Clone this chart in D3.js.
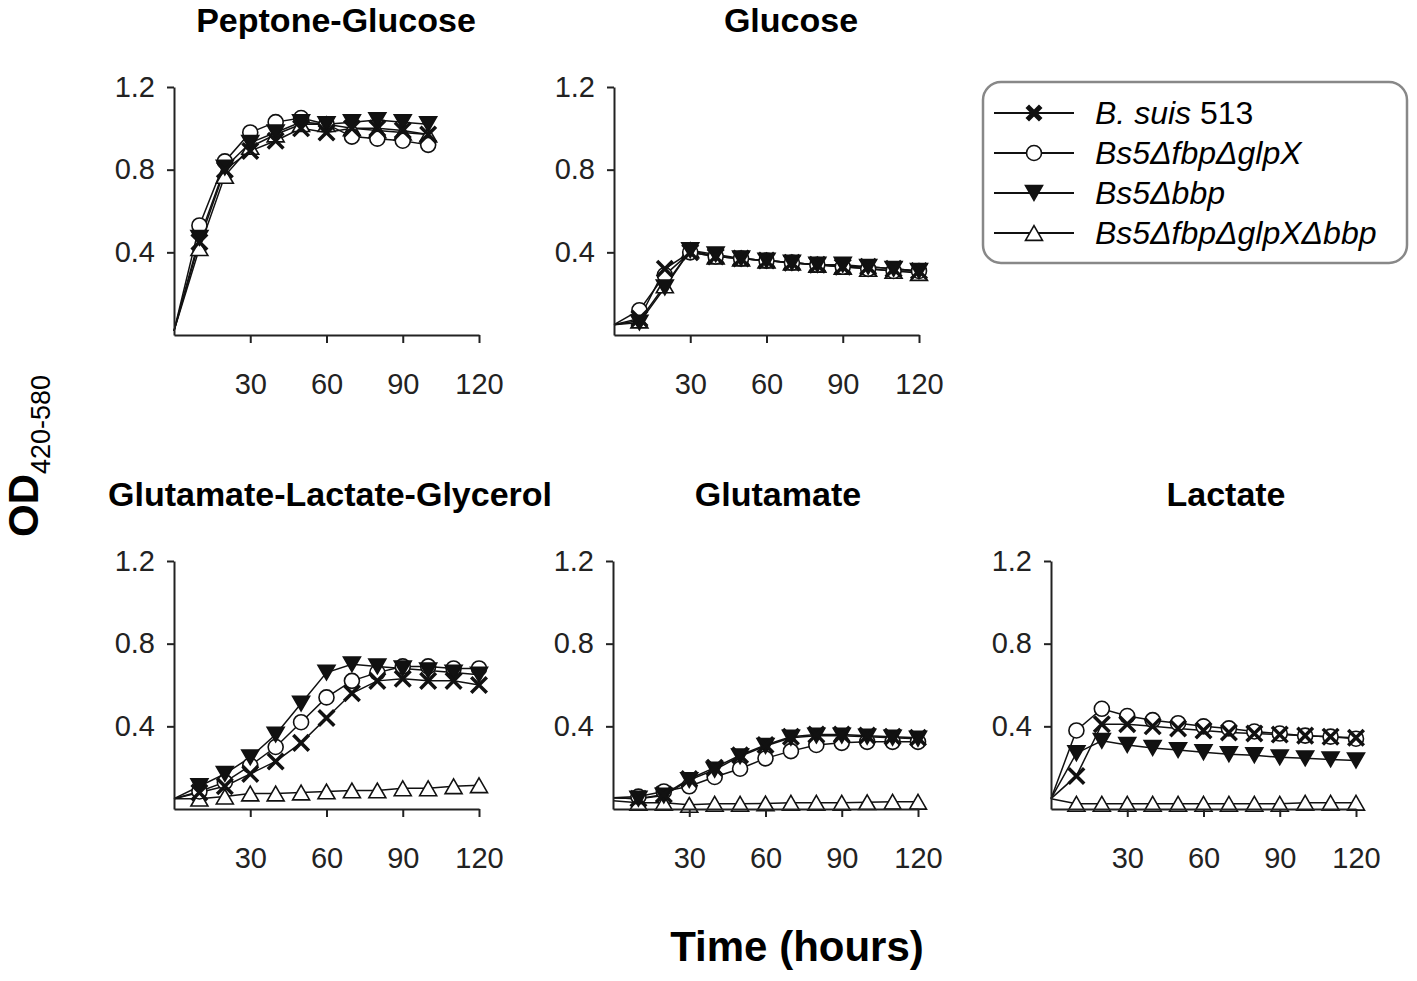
<!DOCTYPE html>
<html lang="en">
<head>
  <meta charset="UTF-8">
  <title>OD growth curves</title>
  <script src="https://d3js.org/d3.v7.min.js"></script>
  <style>
    body { margin: 0; background: #fff; }
    svg { display: block; }
    .tick text { font-family: "Liberation Sans", Arial, sans-serif; font-size: 29px; fill: #222; }
    .title { font-family: "Liberation Sans", Arial, sans-serif; font-weight: bold; font-size: 34px; }
  </style>
</head>
<body>
<svg id="chart" width="1417" height="981"></svg>
<script>
  // sampling times (hours)
  const times = [0, 10, 20, 30, 40, 50, 60, 70, 80, 90, 100, 110, 120];

  const seriesNames = ['B. suis 513', 'Bs5ΔfbpΔglpX', 'Bs5Δbbp', 'Bs5ΔfbpΔglpXΔbbp'];
  const panelTitles = ['Peptone-Glucose', 'Glucose', 'Glutamate-Lactate-Glycerol', 'Glutamate', 'Lactate'];
  const yTicks = [0.4, 0.8, 1.2];
  const xTicks = [30, 60, 90, 120];

  // Peptone-Glucose (0-100 h)
  const pgSuis   = [0.02, 0.45, 0.80, 0.89, 0.94, 1.00, 0.98, 1.00, 1.00, 0.99, 0.97];
  const pgFbp    = [0.02, 0.53, 0.84, 0.98, 1.03, 1.05, 1.02, 0.96, 0.95, 0.94, 0.92];
  const pgBbp    = [0.02, 0.47, 0.81, 0.93, 0.98, 1.03, 1.02, 1.03, 1.04, 1.03, 1.02];
  const pgTriple = [0.02, 0.42, 0.77, 0.91, 0.97, 1.02, 1.02, 1.00, 0.99, 0.98, 0.97];

  // Glucose
  const gSuis   = [0.05, 0.08, 0.32, 0.40, 0.38, 0.37, 0.36, 0.35, 0.34, 0.33, 0.33, 0.32, 0.31];
  const gFbp    = [0.05, 0.12, 0.29, 0.40, 0.38, 0.37, 0.36, 0.35, 0.34, 0.33, 0.32, 0.31, 0.31];
  const gBbp    = [0.05, 0.06, 0.23, 0.41, 0.39, 0.37, 0.36, 0.35, 0.34, 0.34, 0.33, 0.32, 0.31];
  const gTriple = [0.05, 0.07, 0.24, 0.41, 0.38, 0.37, 0.36, 0.35, 0.34, 0.33, 0.32, 0.31, 0.30];

  // Glutamate-Lactate-Glycerol
  const glgSuis   = [0.05, 0.08, 0.11, 0.17, 0.23, 0.32, 0.44, 0.56, 0.62, 0.63, 0.62, 0.62, 0.60];
  const glgFbp    = [0.05, 0.085, 0.13, 0.21, 0.30, 0.42, 0.54, 0.62, 0.66, 0.69, 0.69, 0.68, 0.68];
  const glgBbp    = [0.05, 0.11, 0.17, 0.25, 0.36, 0.51, 0.66, 0.70, 0.69, 0.68, 0.67, 0.66, 0.65];
  const glgTriple = [0.05, 0.05, 0.06, 0.075, 0.075, 0.08, 0.085, 0.09, 0.09, 0.10, 0.10, 0.11, 0.115];

  // Glutamate
  const gluSuis   = [0.055, 0.05, 0.07, 0.145, 0.20, 0.26, 0.31, 0.35, 0.36, 0.36, 0.355, 0.35, 0.345];
  const gluFbp    = [0.055, 0.06, 0.085, 0.11, 0.155, 0.195, 0.245, 0.28, 0.31, 0.32, 0.325, 0.325, 0.325];
  const gluBbp    = [0.055, 0.05, 0.065, 0.14, 0.19, 0.255, 0.305, 0.345, 0.355, 0.355, 0.35, 0.345, 0.34];
  const gluTriple = [0.04, 0.03, 0.03, 0.02, 0.025, 0.025, 0.027, 0.03, 0.03, 0.03, 0.033, 0.035, 0.035];

  // Lactate
  const lacSuis   = [0.05, 0.16, 0.41, 0.41, 0.40, 0.39, 0.38, 0.37, 0.365, 0.36, 0.355, 0.35, 0.345];
  const lacFbp    = [0.05, 0.38, 0.485, 0.45, 0.43, 0.415, 0.40, 0.39, 0.375, 0.365, 0.355, 0.35, 0.34];
  const lacBbp    = [0.05, 0.27, 0.33, 0.31, 0.295, 0.285, 0.275, 0.265, 0.26, 0.25, 0.245, 0.24, 0.235];
  const lacTriple = [0.05, 0.025, 0.025, 0.025, 0.025, 0.025, 0.025, 0.025, 0.025, 0.025, 0.03, 0.03, 0.03];

  const panelData = [
    [pgSuis, pgFbp, pgBbp, pgTriple],
    [gSuis, gFbp, gBbp, gTriple],
    [glgSuis, glgFbp, glgBbp, glgTriple],
    [gluSuis, gluFbp, gluBbp, gluTriple],
    [lacSuis, lacFbp, lacBbp, lacTriple]
  ];

  // layout: left of y axis, y of value 0, title centre x
  const layout = [
    { left: 174, bottom: 335, titleX: 336 },
    { left: 614, bottom: 335, titleX: 791 },
    { left: 174, bottom: 809, titleX: 330 },
    { left: 613, bottom: 809, titleX: 778 },
    { left: 1051, bottom: 809, titleX: 1226 }
  ];
  const panelW = 305, panelH = 248;

  const svg = d3.select('#chart');

  // marker for each series: 0 = x, 1 = open circle, 2 = filled down triangle, 3 = open triangle
  function drawMarker(sel, kind, bold = false) {
    if (kind === 0) {
      sel.append('path')
        .attr('d', d3.symbol(d3.symbolTimes, bold ? 120 : 160)())
        .attr('fill', 'none').attr('stroke', '#111').attr('stroke-width', bold ? 5 : 3.5);
    } else if (kind === 1) {
      sel.append('circle').attr('r', 7.5)
        .attr('fill', '#fff').attr('stroke', '#111').attr('stroke-width', 1.6);
    } else {
      const s = 8.5;
      const h = s * Math.sqrt(3);
      const up = `M0,${-h / 2}L${s},${h / 2}L${-s},${h / 2}Z`;
      const down = `M0,${h / 2}L${s},${-h / 2}L${-s},${-h / 2}Z`;
      sel.append('path')
        .attr('d', kind === 2 ? down : up)
        .attr('fill', kind === 2 ? '#111' : '#fff')
        .attr('stroke', '#111').attr('stroke-width', 1.6);
    }
  }

  const drawOrder = [3, 1, 2, 0];

  panelData.forEach((series, p) => {
    const L = layout[p];
    const x = d3.scaleLinear().domain([0, 120]).range([L.left, L.left + panelW]);
    const y = d3.scaleLinear().domain([0, 1.2]).range([L.bottom, L.bottom - panelH]);
    const g = svg.append('g');

    g.append('text')
      .attr('class', 'title')
      .attr('x', L.titleX)
      .attr('y', L.bottom - panelH - 55)
      .attr('text-anchor', 'middle')
      .text(panelTitles[p]);

    const line = d3.line().x((d, i) => x(times[i])).y(d => y(d));

    drawOrder.forEach(k => {
      g.append('path')
        .attr('d', line(series[k]))
        .attr('fill', 'none')
        .attr('stroke', '#111')
        .attr('stroke-width', 1.5);
    });

    drawOrder.forEach(k => {
      series[k].forEach((v, i) => {
        if (i === 0) return; // no marker at inoculation
        const m = g.append('g').attr('transform', `translate(${x(times[i])},${y(v)})`);
        drawMarker(m, k);
      });
    });

    const yAxis = g.append('g')
      .attr('transform', `translate(${L.left},0)`)
      .call(d3.axisLeft(y).tickValues(yTicks).tickSize(7).tickSizeOuter(0).tickPadding(12).tickFormat(d3.format('.1f')));
    const xAxis = g.append('g')
      .attr('transform', `translate(0,${L.bottom})`)
      .call(d3.axisBottom(x).tickValues(xTicks).tickSize(8).tickSizeOuter(0).tickPadding(30));

    [yAxis, xAxis].forEach(a => {
      a.select('.domain').attr('stroke', '#222').attr('stroke-width', 2);
      a.selectAll('.tick line').attr('stroke', '#222').attr('stroke-width', 2);
    });
  });

  // axis titles
  svg.append('text')
    .attr('transform', 'translate(38,537) rotate(-90)')
    .attr('font-family', '"Liberation Sans", Arial, sans-serif')
    .attr('font-weight', 'bold')
    .attr('font-size', 42)
    .text('OD')
    .append('tspan')
    .attr('font-size', 27)
    .attr('font-weight', 'normal')
    .attr('dy', 12)
    .text('420-580');

  svg.append('text')
    .attr('x', 797)
    .attr('y', 961)
    .attr('text-anchor', 'middle')
    .attr('font-family', '"Liberation Sans", Arial, sans-serif')
    .attr('font-weight', 'bold')
    .attr('font-size', 42)
    .text('Time (hours)');

  // legend
  const legend = svg.append('g');
  legend.append('rect')
    .attr('x', 983).attr('y', 82).attr('width', 424).attr('height', 181).attr('rx', 18)
    .attr('fill', '#fff').attr('stroke', '#888').attr('stroke-width', 2.5);

  seriesNames.forEach((name, k) => {
    const cy = 113 + k * 40;
    const row = legend.append('g').attr('transform', `translate(0,${cy})`);
    row.append('line').attr('x1', 994).attr('x2', 1074).attr('y1', 0).attr('y2', 0)
      .attr('stroke', '#111').attr('stroke-width', 2);
    const m = row.append('g').attr('transform', 'translate(1034,0)');
    drawMarker(m, k, true);
    const t = row.append('text')
      .attr('x', 1095).attr('y', 11)
      .attr('font-family', '"Liberation Sans", Arial, sans-serif')
      .attr('font-size', 32)
      .attr('font-style', 'italic');
    if (k === 0) {
      t.append('tspan').text('B. suis');
      t.append('tspan').attr('font-style', 'normal').text(' 513');
    } else {
      t.text(name);
    }
  });
</script>
</body>
</html>
